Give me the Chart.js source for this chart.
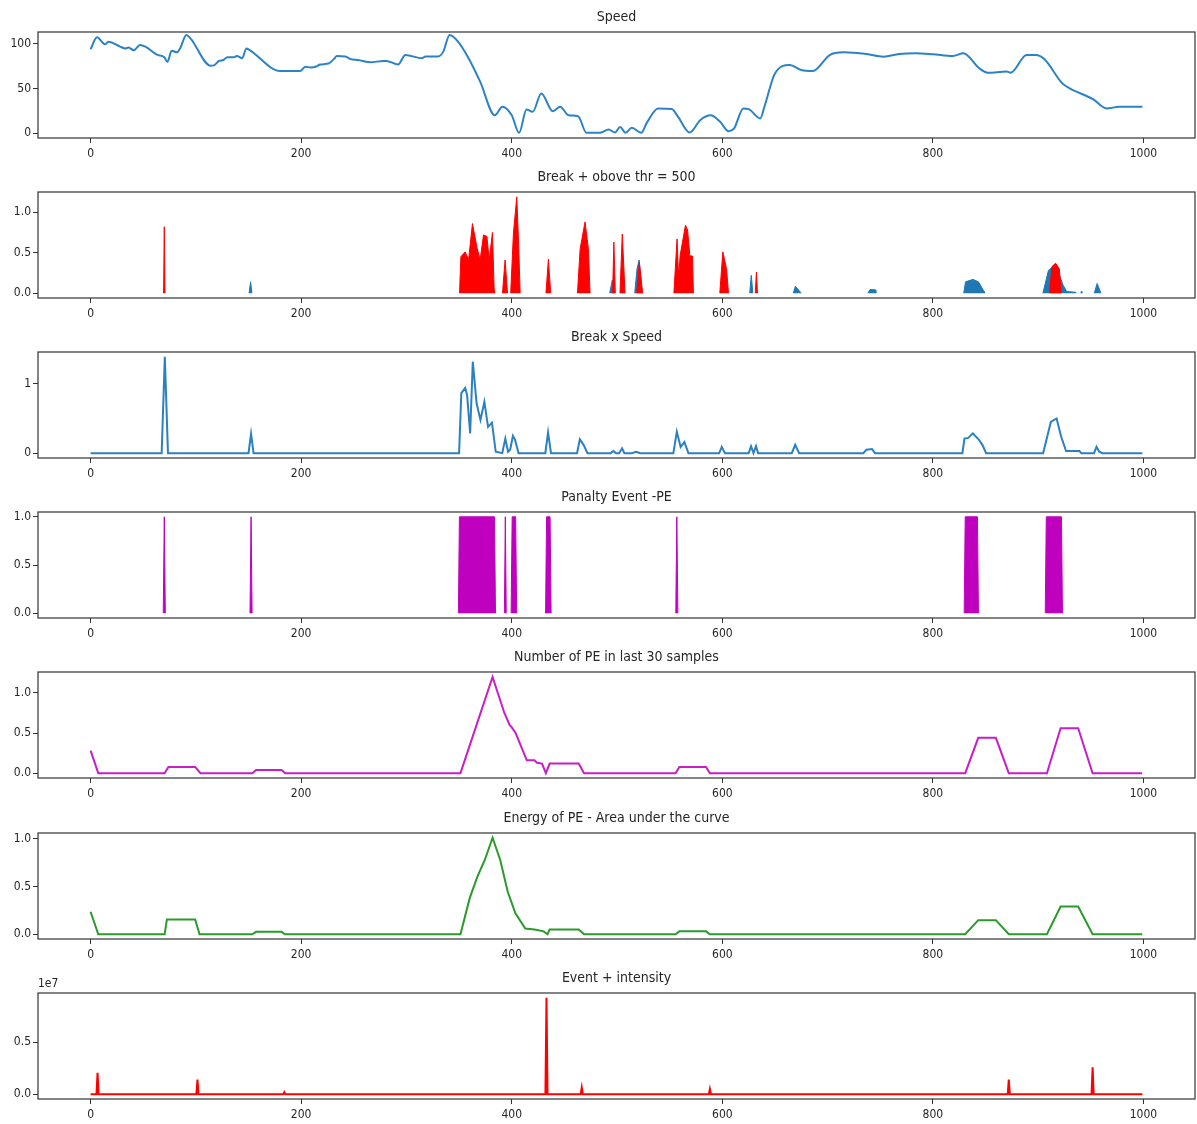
<!DOCTYPE html>
<html>
<head>
<meta charset="utf-8">
<title>Driving signals</title>
<script src="https://cdn.jsdelivr.net/npm/chart.js@4.4.1/dist/chart.umd.min.js"></script>
<style>
  html, body { margin: 0; padding: 0; background: #ffffff; }
  #wrap { position: relative; width: 1197px; height: 1124px; overflow: hidden; }
  #wrap canvas { position: absolute; left: 0; }
</style>
</head>
<body>
<div id="wrap"></div>
<script>
// ---------- shared axis settings ----------
const xTicks = [0, 200, 400, 600, 800, 1000];
const xTickLabels = ['0', '200', '400', '600', '800', '1000'];
const X_MIN = -49.95, X_MAX = 1048.95;

// ---------- Speed ----------
const speedX = [0,6,14,17,28,33,36,41,47,52,63,70,73,77,82,85,91,95,114,117,122,126,130,136,139,144,148,150,180,199,204,209,215,218,226,231,234,242,247,254,266,278,281,292,299,315,318,330,335,341,349,359,370,384,391,400,407,414,420,428,439,446,454,463,471,484,492,498,503,508,514,523,528,539,552,558,569,579,589,598,606,611,620,625,636,640,650,664,675,686,702,715,737,753,768,784,800,819,829,844,852,870,874,889,898,906,923,930,952,965,977,999];
const speedY = [94,107.5,99.6,102.6,97,95,96,93,98.9,97,88,85,80,92.5,90.6,95,110,106,75.6,76,81,82,85,85,86.5,84,95,94,69.7,69.7,74.5,73.5,75,77,78,83,86.5,86,83,82,79.4,81,81,77,87.6,84,86,86,91.4,110,102.6,84,57.7,20,29.6,20,0.4,26.6,24,44.6,24.7,29.6,20,19,0.4,0.4,4,0.8,7,0.4,6,0.4,11,27.7,27,18.3,0.8,14.6,20,12.7,2.2,5,27.7,27,16.5,29.6,67,76.4,70.8,69.7,87.6,90.6,88.8,85.8,88.8,89.5,88.4,86.5,89.5,72.7,67.8,69,67.8,87.6,87.6,82.8,55.8,50.2,38.2,27.7,29.6,29.6];
const speedTicks = [0, 50, 100];
const speedTickLabels = ['0', '50', '100'];

// ---------- Break + above threshold ----------
const breakHighX = [0,69.3,70,70.7,350.4,351.7,355.8,359,362.7,366.9,370,373.2,376.4,378.6,381.7,383.3,383.6,391.2,393.7,396,399,401.6,404.8,406.4,408,432.5,434.8,437,462.4,465,469.6,472.8,474.4,495.8,497,498.4,502.8,505,507.6,518.7,521.2,524.3,554,557,558.5,560,565,567,569.2,571.6,572.6,597.6,600.5,604,605.9,631.3,632.4,633.4,910.7,913.2,916.6,920.1,921.9,999];
const breakHighY = [0,0,0.82,0,0,0.45,0.51,0.41,0.86,0.57,0.41,0.72,0.7,0.41,0.75,0.04,0,0,0.41,0,0,0.74,1.19,0.65,0,0,0.42,0,0,0.55,0.88,0.55,0,0,0.63,0,0,0.73,0,0,0.38,0,0,0.67,0.2,0.47,0.84,0.78,0.46,0.46,0,0,0.51,0.3,0,0,0.26,0,0,0.33,0.37,0.3,0,0];
const breakAllX = [0,150.5,152,153.2,493,495.5,497,516.8,519,521,524,626,627.5,629,667.4,669.4,675,738.3,740.3,745.9,746.2,829.3,831,838,843.3,848.6,849,904.5,909.7,916.6,923.6,927.1,935.8,936,940.5,941,941.5,953.3,956,959.6,999];
const breakAllY = [0,0,0.14,0,0,0.16,0,0,0.3,0.41,0,0,0.22,0,0,0.086,0,0,0.045,0.04,0,0,0.14,0.17,0.14,0.02,0,0,0.28,0.36,0.1,0.02,0.01,0,0,0.02,0,0,0.12,0,0];
const unitTicks = [0, 0.5, 1.0];
const unitTickLabels = ['0.0', '0.5', '1.0'];

// ---------- Break x Speed ----------
const bxsX = [0,67.5,70.5,73.5,150,152.4,154.8,350,352.1,355.8,357.6,360.5,363,366.6,370.3,374,377.5,381.2,384.8,391,393.9,396.5,398.5,401.1,403,406.5,431.9,434.5,437.3,462,464.7,468.2,472,494,496.5,499,502,504.8,507,514,518.2,522,553.5,556.8,560.4,564,567.8,597,599.5,602.5,625,627.3,629.6,632,634,666,669.2,673,734,736.8,742.2,745,828,830,833.6,837.9,843.4,847,850.6,904.7,912,917.5,921.8,926.5,939.2,941,953,955.4,958,960.8,999];
const bxsY = [0,0,1.39,0,0,0.28,0,0,0.865,0.94,0.84,0.285,1.32,0.72,0.48,0.74,0.38,0.44,0.02,0,0.21,0.02,0.05,0.25,0.2,0,0,0.3,0,0,0.2,0.12,0,0,0.03,0,0,0.07,0,0,0.02,0,0,0.31,0.09,0.16,0,0,0.09,0,0,0.1,0,0.1,0,0,0.12,0,0,0.05,0.06,0,0,0.21,0.22,0.285,0.2,0.12,0,0,0.45,0.5,0.24,0.03,0.03,0,0,0.09,0.02,0,0];
const bxsTicks = [0, 1];
const bxsTickLabels = ['0', '1'];

// ---------- Penalty events ----------
const peX = [0,69,70,71,151.4,152.4,153.4,349.3,350.3,383.6,384.6,393,393.9,394.8,399.4,400.4,403.7,404.7,432.1,433.1,436.4,437.4,555.8,556.8,557.8,829.7,830.7,842.3,843.3,906.7,907.7,922.1,923.1,999];
const peY = [0,0,1,0,0,1,0,0,1,1,0,0,1,0,0,1,1,0,0,1,1,0,0,1,0,0,1,1,0,0,1,1,0,0];

// ---------- Number of PE in last 30 samples ----------
const countX = [0,7.3,70.3,73.9,99.3,104.4,153.6,157.2,181.3,184.8,351.3,381.8,393,398,400,403.7,414.3,421.6,424,428.8,432.4,436,463.6,468.7,555.6,559.2,584.5,588.2,830.7,843.1,859.8,872.1,908.3,921.3,938,951.7,998.8];
const countY = [0.28,0,0,0.078,0.078,0,0,0.04,0.04,0,0,1.2,0.75,0.6,0.57,0.5,0.16,0.16,0.13,0.12,0,0.12,0.12,0,0,0.078,0.078,0,0,0.44,0.44,0,0,0.56,0.56,0,0];

// ---------- Energy of PE ----------
const energyX = [0,7.3,70.3,72.5,99.3,103.5,153.6,157.2,181.3,184.8,351.3,360,367.3,374.5,381.8,389,396.2,403.5,412.9,421.6,430.3,434,436,463.6,468.7,555.6,559.2,584.5,588.2,830.7,843.1,859.8,872.1,908.3,921.3,938,951.7,998.8];
const energyY = [0.235,0,0,0.155,0.155,0,0,0.025,0.025,0,0,0.375,0.6,0.78,1.01,0.78,0.445,0.22,0.06,0.05,0.03,0,0.05,0.05,0,0,0.03,0.03,0,0,0.147,0.147,0,0,0.29,0.29,0,0];

// ---------- Event + intensity ----------
const intensityX = [0,5.6,6.6,7.6,100.5,101.5,102.5,183,184,185,432,433,434,465.5,466.5,467.5,587.2,588.2,589.2,871.1,872.1,873.1,950.7,951.7,952.7,999];
const intensityY = [0,0,2.07e6,0,0,1.4e6,0,0,0.2e6,0,0,9.3e6,0,0,0.63e6,0,0,0.5e6,0,0,1.4e6,0,0,2.6e6,0,0];
const intensityTicks = [0, 5e6];
const intensityTickLabels = ['0.0', '0.5'];

// ---------- drawing ----------
const FONT = "'DejaVu Sans Condensed','Liberation Sans Narrow','DejaVu Sans',sans-serif";
const TEXT = '#262626';
const AXIS = '#333333';
const wrap = document.getElementById('wrap');

const pts = (xs, ys) => xs.map((x, i) => ({ x: x, y: ys[i] }));

const lineSet = (xs, ys, color, width, extra) => Object.assign({
  data: pts(xs, ys), borderColor: color, borderWidth: width,
  pointRadius: 0, tension: 0, fill: false
}, extra || {});

// filled area between the curve and zero; no outline along the zero level
const areaSet = (xs, ys, color) => ({
  data: pts(xs, ys), borderColor: color, backgroundColor: color, borderWidth: 1,
  pointRadius: 0, tension: 0, fill: 'origin',
  segment: {
    borderColor: ctx => (ctx.p0.parsed.y === 0 && ctx.p1.parsed.y === 0) ? 'rgba(0,0,0,0)' : undefined
  }
});

// box around each plotting area
const framePlugin = {
  id: 'frame',
  afterDatasetsDraw(chart) {
    const a = chart.chartArea, ctx = chart.ctx;
    ctx.save();
    ctx.strokeStyle = AXIS;
    ctx.lineWidth = 1.2;
    ctx.strokeRect(a.left, a.top, a.right - a.left, a.bottom - a.top);
    ctx.restore();
  }
};

// panel heading centred over the plotting area, plus optional scale multiplier
const headingPlugin = {
  id: 'heading',
  afterDraw(chart, args, opts) {
    const a = chart.chartArea, ctx = chart.ctx;
    ctx.save();
    ctx.fillStyle = TEXT;
    ctx.textBaseline = 'middle';
    ctx.textAlign = 'center';
    ctx.font = '14px ' + FONT;
    ctx.fillText(opts.title || '', (a.left + a.right) / 2, 17);
    if (opts.multiplier) {
      ctx.font = '12px ' + FONT;
      ctx.textAlign = 'left';
      ctx.textBaseline = 'bottom';
      ctx.fillText(opts.multiplier, a.left, a.top - 3);
    }
    ctx.restore();
  }
};

function panel(top, title, datasets, yMin, yMax, yTicks, yLabels, multiplier) {
  const c = document.createElement('canvas');
  c.width = 1197; c.height = 160;
  c.style.top = top + 'px';
  wrap.appendChild(c);
  new Chart(c, {
    type: 'line',
    data: { datasets: datasets },
    options: {
      responsive: false, animation: false, devicePixelRatio: 1,
      layout: { padding: { left: 0, right: 2, top: 32, bottom: 0 } },
      plugins: {
        legend: { display: false },
        tooltip: { enabled: false },
        title: { display: false },
        heading: { title: title, multiplier: multiplier || '' }
      },
      scales: {
        x: {
          type: 'linear', min: X_MIN, max: X_MAX,
          afterBuildTicks: s => { s.ticks = xTicks.map(v => ({ value: v })); },
          afterFit: s => { s.height = 22; },
          grid: { drawOnChartArea: false, drawTicks: true, tickLength: 5, color: AXIS },
          border: { display: false },
          ticks: {
            color: TEXT, font: { family: FONT, size: 12 }, padding: 4,
            maxRotation: 0, autoSkip: false,
            callback: (v, i) => xTickLabels[i]
          }
        },
        y: {
          type: 'linear', min: yMin, max: yMax,
          afterBuildTicks: s => { s.ticks = yTicks.map(v => ({ value: v })); },
          afterFit: s => { s.width = 38; },
          grid: { drawOnChartArea: false, drawTicks: true, tickLength: 5, color: AXIS },
          border: { display: false },
          ticks: {
            color: TEXT, font: { family: FONT, size: 12 }, padding: 2,
            autoSkip: false,
            callback: (v, i) => yLabels[i]
          }
        }
      }
    },
    plugins: [framePlugin, headingPlugin]
  });
}

panel(0, 'Speed',
  [lineSet(speedX, speedY, '#2b83c6', 2, { cubicInterpolationMode: 'monotone' })],
  -5.4, 113.4, speedTicks, speedTickLabels);

panel(160, 'Break + obove thr = 500',
  [areaSet(breakHighX, breakHighY, '#ff0000'), areaSet(breakAllX, breakAllY, '#1f77b4')],
  -0.06, 1.25, unitTicks, unitTickLabels);

panel(320, 'Break x Speed',
  [lineSet(bxsX, bxsY, '#2b80c2', 2)],
  -0.07, 1.46, bxsTicks, bxsTickLabels);

panel(480, 'Panalty Event -PE',
  [areaSet(peX, peY, '#bf00bf')],
  -0.05, 1.05, unitTicks, unitTickLabels);

panel(640, 'Number of PE in last 30 samples',
  [lineSet(countX, countY, '#c81ec8', 2)],
  -0.06, 1.26, unitTicks, unitTickLabels);

panel(801, 'Energy of PE - Area under the curve',
  [lineSet(energyX, energyY, '#2a9a2a', 2)],
  -0.05, 1.06, unitTicks, unitTickLabels);

panel(961, 'Event + intensity',
  [Object.assign(areaSet(intensityX, intensityY, '#ff0000'), { borderWidth: 2, segment: {} })],
  -0.465e6, 9.765e6, intensityTicks, intensityTickLabels, '1e7');
</script>
</body>
</html>
